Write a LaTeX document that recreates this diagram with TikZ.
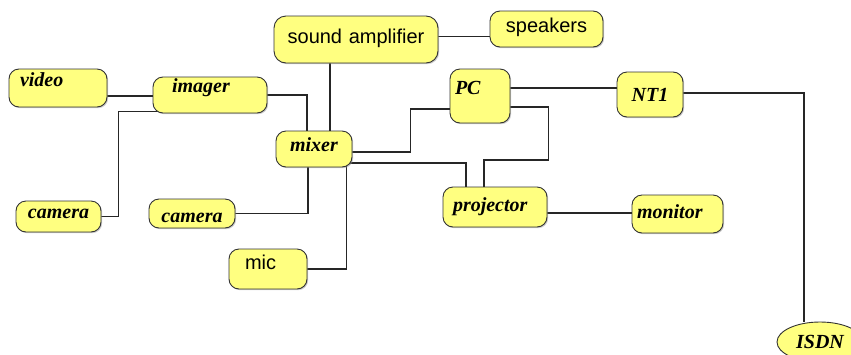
\documentclass[tikz,border=0pt]{standalone}
\usepackage{fontspec}
\newfontfamily\serifbi{Liberation Serif}
\newfontfamily\sanslbl{Liberation Sans}
\usetikzlibrary{shapes.geometric,shadows,backgrounds}
\definecolor{boxyellow}{RGB}{255,255,128}
\begin{document}
\begin{tikzpicture}[x=1pt,y=-1pt,
  box/.style={draw=black!80, line width=0.9pt, fill=boxyellow, rounded corners=10pt,
    inner ysep=0pt, drop shadow={shadow xshift=1.2pt, shadow yshift=-1.2pt, fill=black!40}},
  it/.style={font=\serifbi\bfseries\itshape\fontsize{20}{20}\selectfont},
  sf/.style={font=\sanslbl\fontsize{20}{20}\selectfont},
  hd/.style 2 args={text height=#1pt, text depth=#2pt},
  lw/.style 2 args={inner xsep=#1pt, text width=#2pt, align=left},
  cw/.style={inner xsep=0pt, text width=#1pt, align=center},
  wire/.style={draw=black!85, line width=1.2pt}]
\clip (0,0) rectangle (851,354);
% nodes
\node[box, it, hd={17.5}{20.5}, lw={11}{76}] (video) at (58,88) {video};
\node[box, it, hd={15.5}{20.5}, lw={19}{76}] (imager) at (210,95) {imager};
\node[box, sf, hd={27.2}{19.8}, cw=164, rounded corners=12pt] (amp) at (356,39.5) {sound amplifier};
\node[box, sf, hd={21.2}{14.8}, cw=113] (speakers) at (546.5,29) {speakers};
\node[box, it, hd={20.2}{15.8}, cw=76] (mixer) at (314,149) {mixer};
\node[box, it, hd={25.3}{28.7}, lw={5}{50}] (PC) at (480,96) {PC};
\node[box, it, hd={29.3}{15.7}, cw=66] (NT1) at (650,94.5) {NT1};
\node[box, it, hd={24.5}{15.5}, lw={10}{84}] (projector) at (495,207) {projector};
\node[box, it, hd={23.5}{14.5}, lw={5}{81}] (monitor) at (677.5,214) {monitor};
\node[box, it, ellipse, sharp corners, inner sep=0pt, minimum width=86pt, minimum height=40pt] (ISDN) at (820,342) {ISDN};
\node[box, it, hd={17.5}{13.5}, cw=85] (camL) at (58.5,216.5) {camera};
\node[box, it, hd={23.5}{5.5}, cw=86] (camM) at (192,213.5) {camera};
\node[box, sf, hd={20.2}{19.8}, lw={16}{46}] (mic) at (268,269) {mic};
% connectors
\begin{pgfonlayer}{background}
\path (video.east) ++(0,8) coordinate (a1);
\draw[wire] (a1) -- (a1 -| imager.west);
\path (imager.south west) ++(14,-2) coordinate (a3);
\draw[wire] (camL.east) -- ++(17,0) |- (a3);
\draw[wire] (imager.east) -| ([xshift=-7pt]mixer.north);
\path (mixer.north) ++(16,0) coordinate (a4);
\draw[wire] (a4) -- (a4 |- amp.south);
\path (amp.east) ++(0,-3) coordinate (a5);
\draw[wire] (a5) -- (a5 -| speakers.west);
\path (mixer.east) ++(0,3) coordinate (a6);
\path (PC.west) ++(0,13) coordinate (a7);
\draw[wire] (a6) -- ++(58,0) |- (a7);
\path (mixer.east) ++(-6,14) coordinate (a8);
\draw[wire] (a8) -| ([xshift=-29pt]projector.north);
\draw[wire] (mic.east) -| (a8);
\draw[wire] (camM.east) -| ([xshift=-6pt]mixer.south);
\path (PC.east) ++(0,11) coordinate (a9);
\draw[wire] (a9) -- ++(38,0) -- ++(0,53) -| ([xshift=-11pt]projector.north);
\path (PC.east) ++(0,-8) coordinate (a10);
\draw[wire] (a10) -- (a10 -| NT1.west);
\path (NT1.east) ++(0,-1.5) coordinate (a11);
\draw[wire] (a11) -| ([xshift=-16pt]ISDN.north);
\path (projector.east) ++(0,6) coordinate (a12);
\draw[wire] (a12) -- (a12 -| monitor.west);
\end{pgfonlayer}
\end{tikzpicture}
\end{document}
